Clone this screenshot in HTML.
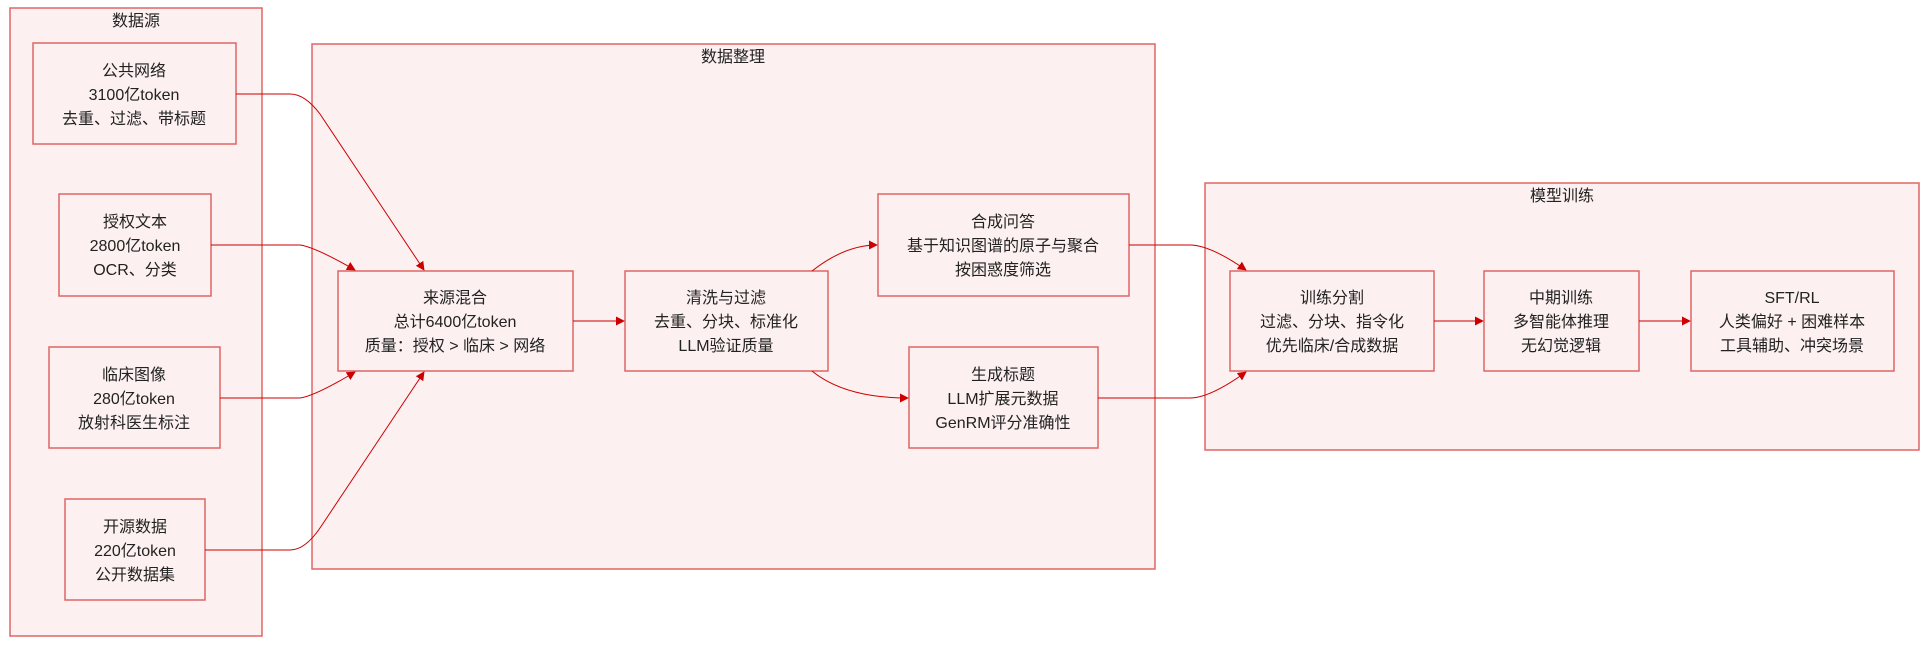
<!DOCTYPE html>
<html><head><meta charset="utf-8"><style>
html,body{margin:0;padding:0;background:#fff;}
svg text{font-family:"Liberation Sans","Noto Sans CJK SC",sans-serif;font-size:16px;fill:#222;text-anchor:middle;}
</style></head><body>
<svg width="1928" height="644" viewBox="0 0 1928 644" xmlns="http://www.w3.org/2000/svg">
<defs><marker id="a" viewBox="0 0 10 10" refX="9" refY="5" markerWidth="9" markerHeight="9" markerUnits="userSpaceOnUse" orient="auto"><path d="M0,0L10,5L0,10z" fill="#cc0000"/></marker></defs>
<g fill="#fcf0f0" stroke="#e06666" stroke-width="1.5">
<rect x="10" y="8" width="252" height="628"/>
<rect x="312" y="44" width="843" height="525"/>
<rect x="1205" y="183" width="714" height="267"/>
<rect x="33" y="43" width="203" height="101"/>
<rect x="59" y="194" width="152" height="102"/>
<rect x="49" y="347" width="171" height="101"/>
<rect x="65" y="499" width="140" height="101"/>
<rect x="338" y="271" width="235" height="100"/>
<rect x="625" y="271" width="203" height="100"/>
<rect x="878" y="194" width="251" height="102"/>
<rect x="909" y="347" width="189" height="101"/>
<rect x="1230" y="271" width="204" height="100"/>
<rect x="1484" y="271" width="155" height="100"/>
<rect x="1691" y="271" width="203" height="100"/>
</g>
<g fill="none" stroke="#cc0000" stroke-width="1" marker-end="url(#a)">
<path d="M236,94 L290,94 Q305,94 320,114 L424,270"/>
<path d="M211,245 L300,245 Q315,247 355,270"/>
<path d="M220,398 L300,398 Q315,396 355,372"/>
<path d="M205,550 L290,550 Q305,550 320,528 L424,372"/>
<path d="M573,321 L624,321"/>
<path d="M812,271 Q845,245 877,245"/>
<path d="M812,371 Q845,398 908,398"/>
<path d="M1129,245 L1190,245 Q1210,245 1246,270"/>
<path d="M1098,398 L1190,398 Q1210,398 1246,372"/>
<path d="M1434,321 L1483,321"/>
<path d="M1639,321 L1690,321"/>
</g>
<text x="136" y="26">数据源</text>
<text x="733" y="62">数据整理</text>
<text x="1562" y="201">模型训练</text>
<text x="134" y="76">公共网络</text><text x="134" y="100">3100亿token</text><text x="134" y="124">去重、过滤、带标题</text>
<text x="135" y="227">授权文本</text><text x="135" y="251">2800亿token</text><text x="135" y="275">OCR、分类</text>
<text x="134" y="380">临床图像</text><text x="134" y="404">280亿token</text><text x="134" y="428">放射科医生标注</text>
<text x="135" y="532">开源数据</text><text x="135" y="556">220亿token</text><text x="135" y="580">公开数据集</text>
<text x="455" y="303">来源混合</text><text x="455" y="327">总计6400亿token</text><text x="455" y="351">质量：授权 &gt; 临床 &gt; 网络</text>
<text x="726" y="303">清洗与过滤</text><text x="726" y="327">去重、分块、标准化</text><text x="726" y="351">LLM验证质量</text>
<text x="1003" y="227">合成问答</text><text x="1003" y="251">基于知识图谱的原子与聚合</text><text x="1003" y="275">按困惑度筛选</text>
<text x="1003" y="380">生成标题</text><text x="1003" y="404">LLM扩展元数据</text><text x="1003" y="428">GenRM评分准确性</text>
<text x="1332" y="303">训练分割</text><text x="1332" y="327">过滤、分块、指令化</text><text x="1332" y="351">优先临床/合成数据</text>
<text x="1561" y="303">中期训练</text><text x="1561" y="327">多智能体推理</text><text x="1561" y="351">无幻觉逻辑</text>
<text x="1792" y="303">SFT/RL</text><text x="1792" y="327">人类偏好 + 困难样本</text><text x="1792" y="351">工具辅助、冲突场景</text>
</svg>
</body></html>
